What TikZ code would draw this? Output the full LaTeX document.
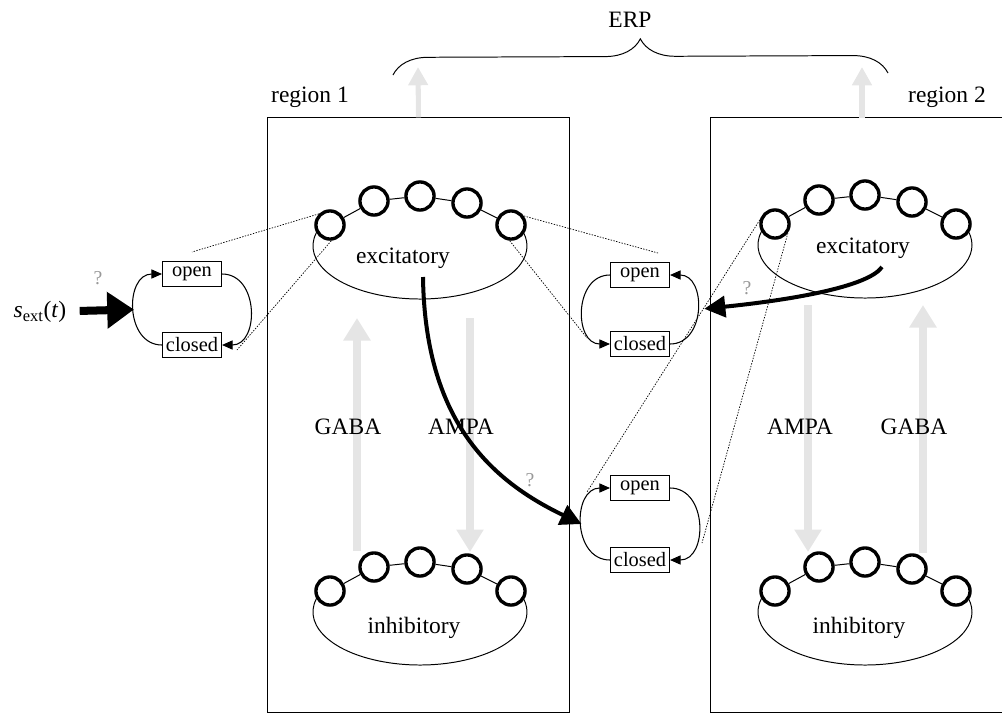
\documentclass[tikz,border=0pt]{standalone}
\usepackage{fontspec}
\setmainfont{Liberation Serif}
\usetikzlibrary{arrows.meta,decorations.pathreplacing}

\tikzset{
    regbox/.style={draw, line width=0.7pt, inner sep=0pt},
    neuron/.style={circle, draw, line width=2.4pt, fill=white, minimum size=20pt, inner sep=0pt},
    swbox/.style={draw, line width=0.7pt, minimum width=42pt, minimum height=17.8pt, inner sep=0.5pt, font=\fontsize{14.5pt}{16pt}\selectfont},
    swarrow/.style={line width=0.75pt, -{Triangle[length=7.5pt,width=6.5pt]}},
    bigarrow/.style={line width=2.85pt, -{Triangle[length=15pt,width=15pt]}},
    hugearrow/.style={line width=5.7pt, -{Triangle[length=19pt,width=25pt]}},
    grayarrow/.style={draw=black!10, line width=5pt, -{Triangle[length=16pt,width=18.5pt]}},
    erparrow/.style={draw=black!10, line width=3.6pt, -{Triangle[length=13pt,width=13.5pt]}},
    zoomline/.style={line width=0.5pt, dash pattern=on 1pt off 1pt},
    qmark/.style={text=black!40, font=\fontsize{14pt}{16pt}\selectfont}
}

\begin{document}
\begin{tikzpicture}[x=0.025cm, y=-0.025cm, font=\fontsize{16.7pt}{20pt}\selectfont]
        \useasboundingbox (0,0) rectangle (1002,713);

        % Regions
        \node[regbox, minimum width=214.1pt, minimum height=422.5pt] (reg1) at (418.5,415) {};
        \node[regbox, minimum width=227.6pt, minimum height=422.5pt] (reg2) at (871,415) {};
        \node (reg1lab) at (310,97) {region 1};
        \node (reg2lab) at (947,97) {region 2};

        % ERP
        \coordinate (brl) at (393,75);
        \coordinate (brr) at (888,73);
        \draw[line width=0.7pt, decorate, decoration={brace, amplitude=25pt}] (brl) -- (brr);
        \node (erp) at (630,20) {ERP};
        \coordinate (erp1) at (418,67);
        \coordinate (erp2base) at (862,118);
        \coordinate (erp2) at (862,67);
        \draw[erparrow] (reg1.north) -- (erp1);
        \draw[erparrow] (erp2base) -- (erp2);

        % AMPA / GABA
        \coordinate (g1lo) at (357,551);
        \coordinate (g1hi) at (357,318);
        \coordinate (a1hi) at (470,318);
        \coordinate (a1lo) at (470,552);
        \coordinate (a2hi) at (808,305);
        \coordinate (a2lo) at (808,552);
        \coordinate (g2lo) at (923,553);
        \coordinate (g2hi) at (923,305);
        \draw[grayarrow] (g1lo) -- (g1hi);
        \draw[grayarrow] (a1hi) -- (a1lo);
        \draw[grayarrow] (a2hi) -- (a2lo);
        \draw[grayarrow] (g2lo) -- (g2hi);
        \node (gaba1) at (348,427) {GABA};
        \node (ampa1) at (461,427) {AMPA};
        \node (ampa2) at (800,427) {AMPA};
        \node (gaba2) at (914,427) {GABA};

        % Populations
        \foreach \pop/\cx/\cy in {ea/420/246, ia/420/612, eb/865/245, ib/865/612} {
            \draw[line width=0.7pt] (\cx,\cy) ++(200:107 and 53) arc[start angle=200, end angle=-20, x radius=107, y radius=53];
            \foreach \i/\dx/\dy in {1/-90/-21, 2/-46/-45, 3/0/-50, 4/47/-43, 5/91/-21}
                \node[neuron] (\pop-\i) at (\cx+\dx,\cy+\dy) {};
            \draw[line width=0.7pt] (\pop-1) -- (\pop-2) -- (\pop-3) -- (\pop-4) -- (\pop-5);
        }
        \node (ealab) at (403,258) {excitatory};
        \node (ialab) at (414,628) {inhibitory};
        \node (eblab) at (863,248) {excitatory};
        \node (iblab) at (859,628) {inhibitory};

        % Switches
        \node[swbox] (slo) at (192,274) {open};
        \node[swbox] (slc) at (192,345) {closed};
        \draw[swarrow] (slc.west) to[out=180, in=180, looseness=1.35] coordinate[pos=0.5] (slin) (slo.west);
        \draw[swarrow] (slo.east) to[out=0, in=0, looseness=1.35] (slc.east);

        \node[swbox] (suo) at (640,275) {open};
        \node[swbox] (suc) at (640,344) {closed};
        \draw[swarrow] (suo.west) to[out=180, in=180, looseness=1.35] (suc.west);
        \draw[swarrow] (suc.east) to[out=0, in=0, looseness=1.35] coordinate[pos=0.5] (suin) (suo.east);

        \node[swbox] (sdo) at (640,488) {open};
        \node[swbox] (sdc) at (640,560) {closed};
        \draw[swarrow] (sdc.west) to[out=180, in=180, looseness=1.35] coordinate[pos=0.5] (sdin) (sdo.west);
        \draw[swarrow] (sdo.east) to[out=0, in=0, looseness=1.35] (sdc.east);

        % Zoom lines
        \coordinate (zla) at (192,252);
        \coordinate (zlb) at (237,350);
        \coordinate (zua) at (658,253);
        \coordinate (zub) at (587,338);
        \coordinate (zda) at (587,492);
        \coordinate (zdb) at (702,543);
        \draw[zoomline] (ea-1.135) -- (zla);
        \draw[zoomline] (ea-1.-85) -- (zlb);
        \draw[zoomline] (ea-5.35) -- (zua);
        \draw[zoomline] (ea-5.-95) -- (zub);
        \draw[zoomline] (eb-1.165) -- (zda);
        \draw[zoomline] (eb-1.-35) -- (zdb);

        % Inputs
        \node (sext) at (40,312) {\textit{s}\textsubscript{ext}(\textit{t})};
        \draw[hugearrow, shorten <=6pt] (sext) -- (slin);
        \coordinate (eaout) at (423,277);
        \draw[bigarrow] (eaout) .. controls (425,420) and (490,480) .. (sdin);
        \coordinate (ebout) at (882,267);
        \draw[bigarrow, shorten >=5pt] (ebout) .. controls (868,287) and (790,300) .. (suin);

        \node[qmark] (q1) at (98,278) {?};
        \node[qmark] (q2) at (747,288) {?};
        \node[qmark] (q3) at (530,480) {?};
\end{tikzpicture}
\end{document}
